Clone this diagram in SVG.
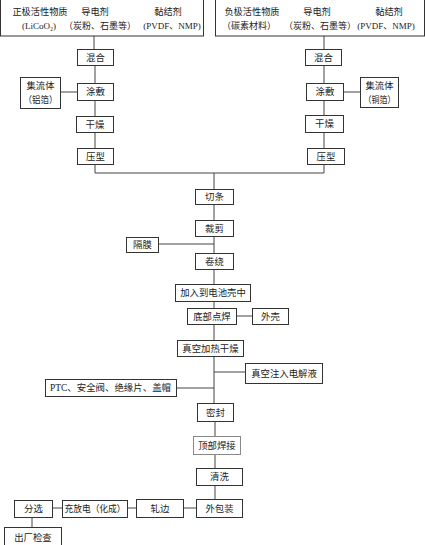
<svg xmlns="http://www.w3.org/2000/svg" width="425" height="545" viewBox="0 0 425 545">
<style>
rect{fill:#fff;stroke:#333;stroke-width:1}
text{font-family:"Liberation Serif","Noto Sans CJK SC",serif;font-size:9.4px;fill:#222;text-anchor:middle;dominant-baseline:central}
.t text{font-size:9.2px}
.t .s{font-size:9px}
.c line,.c polyline{stroke:#444;stroke-width:1;fill:none}
</style>
<rect width="425" height="545" style="fill:#fff;stroke:none"/>
<g class="c" id="connectors">
<line x1="94" y1="36" x2="94" y2="49"/>
<line x1="95" y1="66" x2="95" y2="83"/>
<line x1="60" y1="92" x2="77" y2="92"/>
<line x1="95" y1="100" x2="95" y2="116"/>
<line x1="95" y1="132" x2="95" y2="148"/>
<polyline points="95,164 95,173 324,173 324,164"/>
<line x1="324" y1="36" x2="324" y2="49"/>
<line x1="324" y1="66" x2="324" y2="83"/>
<line x1="343" y1="92" x2="360" y2="92"/>
<line x1="324" y1="100" x2="324" y2="115"/>
<line x1="324" y1="132" x2="324" y2="148"/>
<line x1="214" y1="173" x2="214" y2="189"/>
<line x1="214" y1="204" x2="214" y2="220"/>
<line x1="214" y1="236" x2="214" y2="253"/>
<line x1="158" y1="244" x2="214" y2="244"/>
<line x1="214" y1="269" x2="214" y2="284"/>
<line x1="214" y1="301" x2="214" y2="308"/>
<line x1="236" y1="316" x2="252" y2="316"/>
<line x1="214" y1="324" x2="214" y2="340"/>
<line x1="214" y1="356" x2="214" y2="403"/>
<line x1="214" y1="372" x2="245" y2="372"/>
<line x1="176" y1="388" x2="214" y2="388"/>
<line x1="215" y1="421" x2="215" y2="436"/>
<line x1="215" y1="454" x2="215" y2="468"/>
<line x1="215" y1="485" x2="215" y2="499"/>
<line x1="183" y1="508" x2="196" y2="508"/>
<line x1="127" y1="508" x2="136" y2="508"/>
<line x1="52" y1="508" x2="62" y2="508"/>
<line x1="32" y1="517" x2="32" y2="527"/>
</g>
<g id="pos-materials" class="t">
<rect x="0.5" y="-1" width="203" height="37"/>
<text x="40" y="12">正极活性物质</text>
<text x="95" y="12">导电剂</text>
<text x="168" y="12">黏结剂</text>
<text class="s" x="39" y="26">(LiCoO₂)</text>
<text class="s" x="100" y="26">（炭粉、石墨等）</text>
<text class="s" x="172" y="26">(PVDF、NMP)</text>
</g>
<g id="neg-materials" class="t">
<rect x="215.5" y="-1" width="209" height="37"/>
<text x="252" y="12">负极活性物质</text>
<text x="317" y="12">导电剂</text>
<text x="389" y="12">黏结剂</text>
<text class="s" x="249" y="26">（碳素材料）</text>
<text class="s" x="320" y="26">（炭粉、石墨等）</text>
<text class="s" x="386" y="26">(PVDF、NMP)</text>
</g>
<g id="l-mix"><rect x="77.5" y="49.5" width="36" height="16"/><text x="95.5" y="58">混合</text></g>
<g id="l-coat"><rect x="77.5" y="83.5" width="36" height="17"/><text x="95.5" y="92">涂敷</text></g>
<g id="l-collector"><rect x="20.5" y="77.5" width="40" height="31"/><text x="40.5" y="86">集流体</text><text x="40.5" y="100" textLength="34" lengthAdjust="spacingAndGlyphs">（铝箔）</text></g>
<g id="l-dry"><rect x="76.5" y="116.5" width="37" height="16"/><text x="95" y="124.5">干燥</text></g>
<g id="l-press"><rect x="77.5" y="148.5" width="36" height="16"/><text x="95.5" y="156.5">压型</text></g>
<g id="r-mix"><rect x="305.5" y="49.5" width="36" height="16"/><text x="323.5" y="58">混合</text></g>
<g id="r-coat"><rect x="306.5" y="83.5" width="37" height="17"/><text x="325" y="92">涂敷</text></g>
<g id="r-collector"><rect x="360.5" y="77.5" width="38" height="30"/><text x="379.5" y="86">集流体</text><text x="379.5" y="100" textLength="32" lengthAdjust="spacingAndGlyphs">（铜箔）</text></g>
<g id="r-dry"><rect x="305.5" y="115.5" width="38" height="17"/><text x="324.5" y="124">干燥</text></g>
<g id="r-press"><rect x="307.5" y="148.5" width="37" height="16"/><text x="326" y="156.5">压型</text></g>
<g id="slit"><rect x="195.5" y="189.5" width="38" height="15"/><text x="214.5" y="197">切条</text></g>
<g id="cut"><rect x="195.5" y="220.5" width="38" height="16"/><text x="214.5" y="228.5">裁剪</text></g>
<g id="separator"><rect x="126.5" y="237.5" width="32" height="15"/><text x="142.5" y="245">隔膜</text></g>
<g id="wind"><rect x="195.5" y="253.5" width="38" height="16"/><text x="214.5" y="261.5">卷绕</text></g>
<g id="insert"><rect x="175.5" y="284.5" width="75" height="17"/><text x="213" y="293">加入到电池壳中</text></g>
<g id="bottom-weld"><rect x="187.5" y="308.5" width="49" height="16"/><text x="212" y="316.5">底部点焊</text></g>
<g id="shell"><rect x="252.5" y="308.5" width="36" height="16"/><text x="270.5" y="316.5">外壳</text></g>
<g id="vacuum-dry"><rect x="177.5" y="340.5" width="66" height="16"/><text x="210.5" y="348.5">真空加热干燥</text></g>
<g id="electrolyte"><rect x="245.5" y="363.5" width="77" height="20"/><text x="284" y="373.5">真空注入电解液</text></g>
<g id="ptc"><rect x="45.5" y="379.5" width="131" height="17"/><text x="110.5" y="388" textLength="121" lengthAdjust="spacingAndGlyphs">PTC、安全阀、绝缘片、盖帽</text></g>
<g id="seal"><rect x="197.5" y="403.5" width="36" height="18"/><text x="215.5" y="412.5">密封</text></g>
<g id="top-weld"><rect x="193.5" y="436.5" width="47" height="18" style="stroke:#888"/><text x="217" y="445.5">顶部焊接</text></g>
<g id="clean"><rect x="196.5" y="468.5" width="46" height="17"/><text x="219.5" y="477">清洗</text></g>
<g id="pack"><rect x="196.5" y="499.5" width="46" height="18"/><text x="219.5" y="508.5">外包装</text></g>
<g id="roll"><rect x="136.5" y="499.5" width="47" height="18"/><text x="160" y="508.5">轧边</text></g>
<g id="charge"><rect x="62.5" y="500.5" width="65" height="17"/><text x="95" y="509" textLength="61" lengthAdjust="spacingAndGlyphs">充放电（化成）</text></g>
<g id="sort"><rect x="14.5" y="500.5" width="38" height="17"/><text x="33.5" y="509">分选</text></g>
<g id="inspect"><rect x="4.5" y="527.5" width="57" height="20"/><text x="33" y="537.5">出厂检查</text></g>
</svg>
